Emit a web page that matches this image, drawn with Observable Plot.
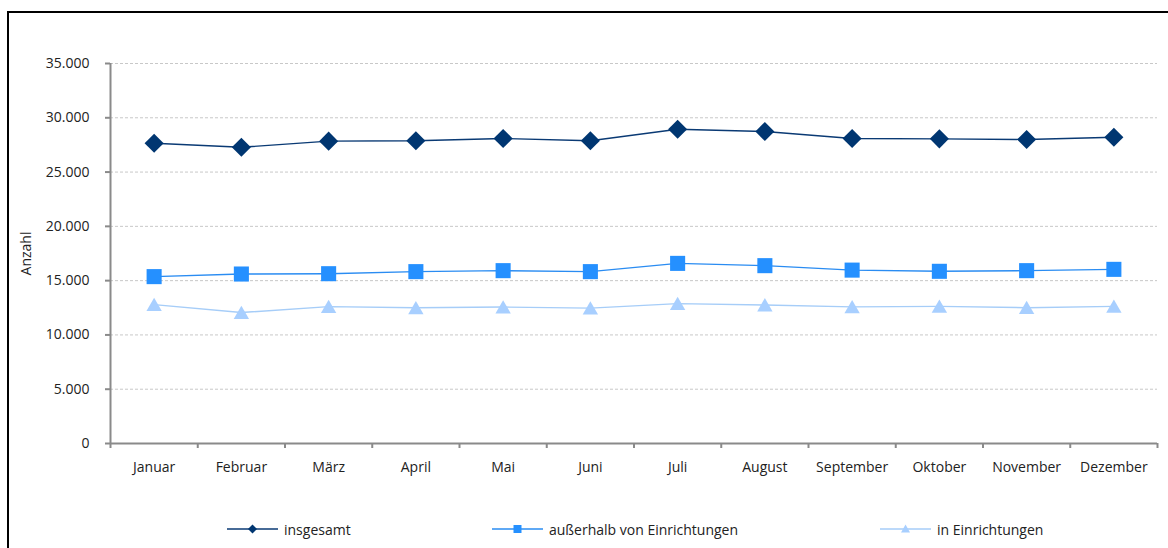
<!DOCTYPE html>
<html><head><meta charset="utf-8">
<script src="https://cdn.jsdelivr.net/npm/d3@7"></script>
<script src="https://cdn.jsdelivr.net/npm/@observablehq/plot@0.6"></script>
<style>
body{margin:0;background:#fff;font-family:"Open Sans",sans-serif;color:#222;}
#wrap{position:relative;width:1168px;height:548px;overflow:hidden;background:#fff;}
#border{position:absolute;left:7px;top:11px;width:1200px;height:600px;border:2px solid #000;box-sizing:border-box;pointer-events:none;z-index:2;}
.leg{position:absolute;top:518px;height:22px;display:flex;align-items:center;font-size:14px;white-space:nowrap;z-index:3;}
.leg svg{display:block;margin-right:6px;}
</style></head>
<body>
<div id="wrap"><div id="border"></div></div>
<script>
const months = ["Januar","Februar","März","April","Mai","Juni","Juli","August","September","Oktober","November","Dezember"];
const insgesamt = [27660,27290,27850,27880,28090,27880,28950,28740,28090,28060,28000,28210];
const ausserhalb = [15370,15610,15640,15830,15920,15830,16590,16380,15970,15860,15920,16040];
const inEinrichtungen = [12790,12060,12610,12500,12570,12470,12880,12760,12580,12630,12510,12630];
const seriesNames = ["insgesamt","außerhalb von Einrichtungen","in Einrichtungen"];
const yTicks = [0,5000,10000,15000,20000,25000,30000,35000];
const yLabel = "Anzahl";

const colors = ["#003671","#2590ff","#a8cfff"];
const lineColors = ["#0a3a74","#2a8cf2","#a6cdf8"];
const symbols = ["diamond2","square","triangle"];
const radii = [8.6,8.5,5.7];
const dys = [0,0,2];
const seriesValues = [insgesamt, ausserhalb, inEinrichtungen];

const de = d3.formatLocale({decimal:",", thousands:".", grouping:[3], currency:["","€"]});
const fmt = de.format(",");

const rows = seriesValues.map((vals, s) => months.map((m, i) => ({month: m, pos: i + 0.5, value: vals[i], series: seriesNames[s]})));

const gray = "#8a8a8a";
const marks = [
  Plot.ruleY(yTicks.filter(d => d > 0), {stroke: "#c8c8c8", strokeDasharray: "3,2", strokeWidth: 1}),
];
rows.forEach((r, s) => {
  marks.push(Plot.line(r, {x: "pos", y: "value", stroke: lineColors[s], strokeWidth: 1.4}));
});
rows.forEach((r, s) => {
  marks.push(Plot.dot(r, {x: "pos", y: "value", symbol: symbols[s], r: radii[s], fill: colors[s], stroke: "none", dy: dys[s]}));
});
marks.push(
  Plot.ruleX([0], {stroke: gray, strokeWidth: 2}),
  Plot.ruleY([0], {stroke: gray, strokeWidth: 2}),
  Plot.axisY({ticks: yTicks, tickFormat: fmt, tickSize: 5, tickPadding: 16, stroke: gray, strokeWidth: 2, fill: "#222", fontSize: 14, label: null}),
  Plot.axisX({ticks: d3.range(months.length + 1), tickFormat: () => "", tickSize: 5, stroke: gray, strokeWidth: 2, label: null}),
  Plot.axisX({ticks: months.map((m, i) => i + 0.5), tickFormat: d => months[Math.floor(d)], tickSize: 0, tickPadding: 19, fill: "#222", fontSize: 14, label: null}),
  Plot.text([yLabel], {frameAnchor: "left", textAnchor: "middle", dx: -84, rotate: -90, fontSize: 14, fill: "#222"})
);

const chart = Plot.plot({
  width: 1168,
  height: 548,
  marginLeft: 110,
  marginRight: 11,
  marginTop: 63,
  marginBottom: 105,
  style: {background: "transparent", fontFamily: "'Open Sans', sans-serif", fontSize: "14px", color: "#222"},
  x: {domain: [0, months.length]},
  y: {domain: [0, 35000]},
  marks
});
chart.style.position = "absolute";
chart.style.left = "0";
chart.style.top = "0";
const wrap = document.getElementById("wrap");
wrap.appendChild(chart);

// legend
const legLeft = [227, 492, 880];
const ns = "http://www.w3.org/2000/svg";
seriesNames.forEach((name, s) => {
  const item = document.createElement("div");
  item.className = "leg";
  item.style.left = legLeft[s] + "px";
  const svg = document.createElementNS(ns, "svg");
  svg.setAttribute("width", 51); svg.setAttribute("height", 20);
  const ln = document.createElementNS(ns, "line");
  ln.setAttribute("x1", 0); ln.setAttribute("x2", 51); ln.setAttribute("y1", 10); ln.setAttribute("y2", 10);
  ln.setAttribute("stroke", lineColors[s]); ln.setAttribute("stroke-width", 1.5);
  svg.appendChild(ln);
  const p = document.createElementNS(ns, "path");
  let d;
  if (s === 0) d = "M25.5,5.5L30,10L25.5,14.5L21,10Z";
  else if (s === 1) d = "M21.5,6L29.5,6L29.5,14L21.5,14Z";
  else d = "M25.5,5.5L30,13.5L21,13.5Z";
  p.setAttribute("d", d); p.setAttribute("fill", colors[s]);
  svg.appendChild(p);
  item.appendChild(svg);
  const t = document.createElement("span");
  t.textContent = name;
  item.appendChild(t);
  wrap.appendChild(item);
});
</script>
</body></html>
